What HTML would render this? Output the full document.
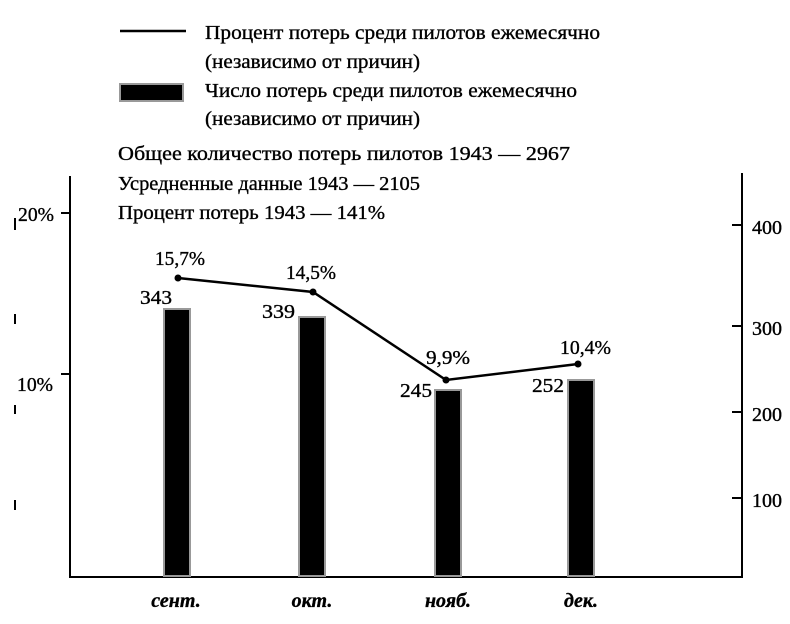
<!DOCTYPE html>
<html><head><meta charset="utf-8"><style>
body{margin:0;background:#fff}
svg text{font-family:"Liberation Serif",serif;font-size:20px;fill:#000;stroke:#000;stroke-width:0.35}
</style></head><body>
<svg width="790" height="619" xmlns="http://www.w3.org/2000/svg">
<line x1="120" y1="31" x2="186" y2="31" stroke="#000" stroke-width="2.5"/>
<text x="205" y="39" textLength="395" lengthAdjust="spacingAndGlyphs">Процент потерь среди пилотов ежемесячно</text>
<text x="205" y="68" textLength="215" lengthAdjust="spacingAndGlyphs">(независимо от причин)</text>
<rect x="120" y="84" width="63" height="17" fill="#000" stroke="#999" stroke-width="2"/>
<text x="205" y="97" textLength="372" lengthAdjust="spacingAndGlyphs">Число потерь среди пилотов ежемесячно</text>
<text x="205" y="125" textLength="215" lengthAdjust="spacingAndGlyphs">(независимо от причин)</text>
<text x="118" y="160" textLength="452" lengthAdjust="spacingAndGlyphs">Общее количество потерь пилотов 1943 — 2967</text>
<text x="118" y="190" textLength="302" lengthAdjust="spacingAndGlyphs">Усредненные данные 1943 — 2105</text>
<text x="118" y="219" textLength="267" lengthAdjust="spacingAndGlyphs">Процент потерь 1943 — 141%</text>
<g stroke="#000" stroke-width="2">
<line x1="70" y1="176" x2="70" y2="578"/>
<line x1="742" y1="173" x2="742" y2="578"/>
<line x1="69" y1="577" x2="743" y2="577"/>
<line x1="61" y1="213" x2="70" y2="213"/>
<line x1="61" y1="374" x2="70" y2="374"/>
<line x1="732" y1="225" x2="742" y2="225"/>
<line x1="732" y1="326" x2="742" y2="326"/>
<line x1="732" y1="412" x2="742" y2="412"/>
<line x1="732" y1="498" x2="742" y2="498"/>
<line x1="15" y1="218" x2="15" y2="230"/>
<line x1="15" y1="314" x2="15" y2="324"/>
<line x1="15" y1="405" x2="15" y2="414"/>
<line x1="15" y1="500" x2="15" y2="510"/>
</g>
<text x="18" y="221" textLength="36" lengthAdjust="spacingAndGlyphs">20%</text>
<text x="17" y="391" textLength="36" lengthAdjust="spacingAndGlyphs">10%</text>
<text x="752" y="234">400</text>
<text x="752" y="335">300</text>
<text x="752" y="421">200</text>
<text x="752" y="507">100</text>
<g fill="#000" stroke="#999" stroke-width="2">
<rect x="164" y="309" width="26" height="267"/>
<rect x="299" y="317" width="26" height="259"/>
<rect x="435" y="390" width="26" height="186"/>
<rect x="568" y="380" width="26" height="196"/>
</g>
<polyline points="178,278 313,292 446,380 578,364" fill="none" stroke="#000" stroke-width="2.5"/>
<g fill="#000"><circle cx="178" cy="278" r="3.5"/><circle cx="313" cy="292" r="3.5"/><circle cx="446" cy="380" r="3.5"/><circle cx="578" cy="364" r="3.5"/></g>
<text x="155" y="265" textLength="50" lengthAdjust="spacingAndGlyphs">15,7%</text>
<text x="140" y="304" textLength="32" lengthAdjust="spacingAndGlyphs">343</text>
<text x="286" y="279" textLength="50" lengthAdjust="spacingAndGlyphs">14,5%</text>
<text x="262" y="318" textLength="33" lengthAdjust="spacingAndGlyphs">339</text>
<text x="426" y="364" textLength="44" lengthAdjust="spacingAndGlyphs">9,9%</text>
<text x="400" y="397" textLength="32" lengthAdjust="spacingAndGlyphs">245</text>
<text x="560" y="354" textLength="51" lengthAdjust="spacingAndGlyphs">10,4%</text>
<text x="532" y="392" textLength="32" lengthAdjust="spacingAndGlyphs">252</text>
<g text-anchor="middle">
<text x="176" y="607" font-style="italic" font-weight="bold">сент.</text>
<text x="312" y="607" font-style="italic" font-weight="bold">окт.</text>
<text x="448" y="607" font-style="italic" font-weight="bold">нояб.</text>
<text x="581" y="607" font-style="italic" font-weight="bold">дек.</text>
</g>
</svg>
</body></html>
